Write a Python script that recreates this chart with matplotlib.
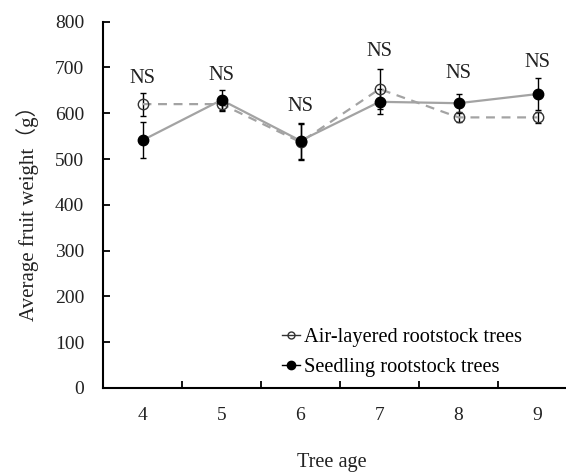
import matplotlib
matplotlib.use("Agg")
import matplotlib.pyplot as plt
import numpy as np

ages = ["4", "5", "6", "7", "8", "9"]
air_mean = [620, 620, 537, 653, 591, 591]
air_err = [25, 15, 39, 44, 10, 12]
seed_mean = [541, 629, 540, 625, 622, 642]
seed_err = [39, 22, 39, 27, 20, 35]
ns_y = [677, 683, 614, 734, 686, 710]
ns_labels = ["NS"] * 6
yticks = [0, 100, 200, 300, 400, 500, 600, 700, 800]

plt.rcParams['font.family'] = ['Liberation Serif', 'Noto Sans CJK SC']

fig = plt.figure(figsize=(5.66, 4.74), dpi=100)
y0_px, y800_px = 388, 21.7
ax = fig.add_axes([103/566, (474 - y0_px)/474, (577 - 103)/566, (y0_px - y800_px)/474])

x = np.arange(len(ages))
gray = '#A3A3A3'

ax.errorbar(x, air_mean, yerr=air_err, fmt='none', ecolor='black', elinewidth=1.0,
            capsize=2, capthick=1.0, zorder=2)
ax.errorbar(x, seed_mean, yerr=seed_err, fmt='none', ecolor='black', elinewidth=1.0,
            capsize=2, capthick=1.0, zorder=2)
ax.plot(x, air_mean, color=gray, lw=1.6, ls=(0, (4, 3)), zorder=3)
ax.plot(x, seed_mean, color=gray, lw=1.6, ls='-', zorder=3)
ax.plot(x, air_mean, ls='none', marker='o', ms=7.5, mfc='none', mec='#333333', mew=1.0, zorder=4)
ax.plot(x, seed_mean, ls='none', marker='o', ms=7.5, mfc='black', mec='black', zorder=5)

for xi, yi, t in zip(x, ns_y, ns_labels):
    ax.text(xi, yi, t, ha='center', va='center', fontsize=14.7, color='#222222')

# legend handles
h1, = ax.plot([], [], color='#333333', lw=1.0, marker='o', ms=5, mfc='none', mec='#333333')
h2, = ax.plot([], [], color='black', lw=1.0, marker='o', ms=6, mfc='black', mec='black')
fig.legend([h1, h2], ["Air-layered rootstock trees", "Seedling rootstock trees"],
           loc='upper left', bbox_to_anchor=(278/566, 1 - 324/474), frameon=False,
           fontsize=14.7, handlelength=0.9, handletextpad=0.15, labelspacing=0.5,
           borderpad=0.2, borderaxespad=0)

ax.set_xlim(-0.5, len(ages) - 0.5)
ax.set_ylim(0, 800)
ax.set_yticks(yticks)
ax.set_yticklabels([str(v) for v in yticks], fontsize=14, color='#222222')
ax.set_xticks(x)
ax.set_xticklabels(ages, fontsize=14, color='#222222')
ax.set_xticks(np.arange(0.5, len(ages) - 0.5, 1.0), minor=True)
ax.tick_params(axis='x', which='major', length=0, pad=13.5)
ax.tick_params(axis='x', which='minor', direction='in', length=5, width=1.3)
ax.tick_params(axis='y', which='major', direction='in', length=5, width=1.3, pad=13.5)

for s in ['top', 'right']:
    ax.spines[s].set_visible(False)
for s in ['left', 'bottom']:
    ax.spines[s].set_linewidth(1.5)
    ax.spines[s].set_color('black')

fig.text(28/566, 1 - 208/474, "Average fruit weight（g）", rotation=90, ha='center', va='center',
         fontsize=15, color='#222222')
fig.text(332/566, 1 - 463/474, "Tree age", ha='center', va='center', fontsize=14.6, color='#222222')

fig.savefig("out.png", dpi=100)
